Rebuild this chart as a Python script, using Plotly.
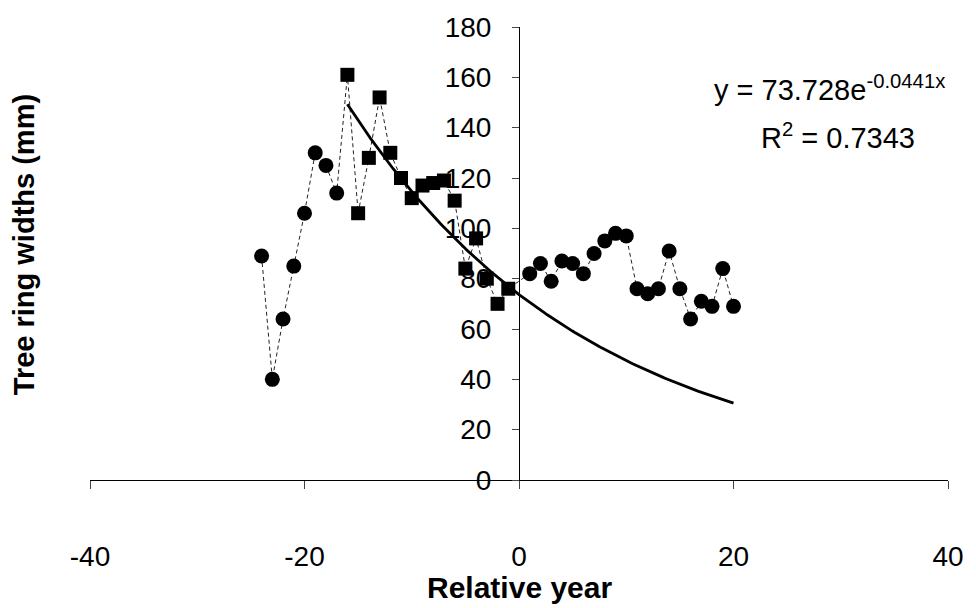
import numpy as np
import plotly.graph_objects as go

# Data
early_years = [-24, -23, -22, -21, -20, -19, -18, -17]
early_widths = [89, 40, 64, 85, 106, 130, 125, 114]

mid_years = [-16, -15, -14, -13, -12, -11, -10, -9, -8, -7, -6, -5, -4, -3, -2, -1]
mid_widths = [161, 106, 128, 152, 130, 120, 112, 117, 118, 119, 111, 84, 96, 80, 70, 76]

late_years = [1, 2, 3, 4, 5, 6, 7, 8, 9, 10, 11, 12, 13, 14, 15, 16, 17, 18, 19, 20]
late_widths = [82, 86, 79, 87, 86, 82, 90, 95, 98, 97, 76, 74, 76, 91, 76, 64, 71, 69, 84, 69]

fit_a = 73.728
fit_b = -0.0441
fit_start, fit_end = -16, 20

x_ticks = [-40, -20, 0, 20, 40]
x_tick_labels = ["-40", "-20", "0", "20", "40"]
y_ticks = [0, 20, 40, 60, 80, 100, 120, 140, 160, 180]
y_tick_labels = ["0", "20", "40", "60", "80", "100", "120", "140", "160", "180"]

FONT = "Liberation Sans, Arial, sans-serif"

all_x = early_years + mid_years + late_years
all_y = early_widths + mid_widths + late_widths

fit_x = np.linspace(fit_start, fit_end, 200)
fit_y = fit_a * np.exp(fit_b * fit_x)

fig = go.Figure()
fig.add_trace(go.Scatter(x=all_x, y=all_y, mode="lines",
                         line=dict(color="#222222", width=1, dash="4px,3px"),
                         showlegend=False, hoverinfo="skip"))
fig.add_trace(go.Scatter(x=fit_x, y=fit_y, mode="lines",
                         line=dict(color="black", width=2.8),
                         showlegend=False))
fig.add_trace(go.Scatter(x=early_years, y=early_widths, mode="markers",
                         marker=dict(symbol="circle", size=15, color="black"),
                         showlegend=False))
fig.add_trace(go.Scatter(x=mid_years, y=mid_widths, mode="markers",
                         marker=dict(symbol="square", size=14, color="black"),
                         showlegend=False))
fig.add_trace(go.Scatter(x=late_years, y=late_widths, mode="markers",
                         marker=dict(symbol="circle", size=15, color="black"),
                         showlegend=False))

fig.update_layout(
    width=976, height=608,
    margin=dict(l=90, r=20, t=25, b=128),
    paper_bgcolor="white", plot_bgcolor="white",
    font=dict(family=FONT, color="black", size=28),
    xaxis=dict(range=[-40, 40], tickvals=x_ticks, ticktext=x_tick_labels,
               ticks="outside", ticklen=8,
               showline=True, linecolor="black", linewidth=1,
               showgrid=False, zeroline=False,
               tickfont=dict(size=28), ticklabelstandoff=43),
    yaxis=dict(range=[0, 180], tickvals=y_ticks, ticktext=y_tick_labels,
               ticks="outside", ticklen=7,
               showline=True, linecolor="black", linewidth=1,
               showgrid=False, zeroline=False, anchor="free", position=0.5,
               tickfont=dict(size=28), ticklabelstandoff=15),
    annotations=[
        dict(text="<b>Tree ring widths (mm)</b>", xref="paper", yref="paper",
             x=-0.076, y=0.52, textangle=-90, showarrow=False,
             font=dict(size=29), xanchor="center", yanchor="middle"),
        dict(text="<b>Relative year</b>", xref="paper", yref="paper",
             x=0.5, y=-0.237, showarrow=False, font=dict(size=30),
             xanchor="center", yanchor="middle"),
        dict(text="y = 73.728e<sup>-0.0441x</sup>", xref="paper", yref="paper",
             x=0.862, y=0.865, showarrow=False, font=dict(size=29),
             xanchor="center", yanchor="middle"),
        dict(text="R<sup>2</sup> = 0.7343", xref="paper", yref="paper",
             x=0.872, y=0.76, showarrow=False, font=dict(size=29),
             xanchor="center", yanchor="middle"),
    ],
)

fig.write_html("out.html")
